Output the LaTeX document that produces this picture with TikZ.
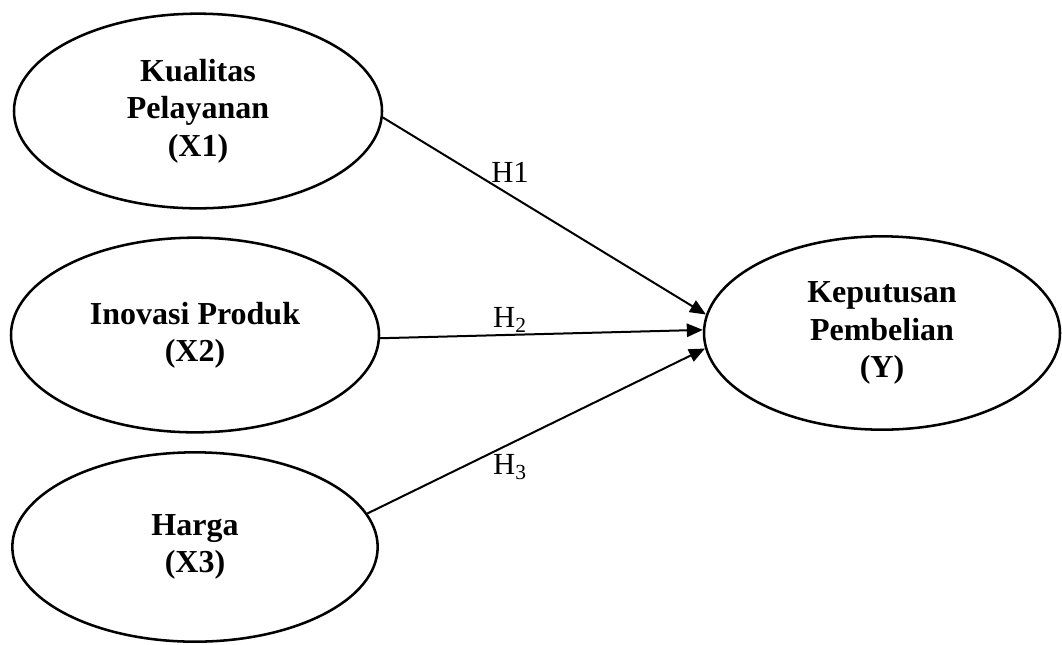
\documentclass[tikz,border=0pt]{standalone}
\usepackage{fontspec}
\setmainfont{Liberation Serif}
\usepackage{tikz}
\usetikzlibrary{shapes,arrows.meta,positioning}

\begin{document}
\begin{tikzpicture}[x=0.75pt,y=0.75pt,yscale=-1,xscale=1,
  var/.style={draw, ellipse, line width=1.9pt, inner sep=0pt,
    minimum width=276pt, minimum height=146pt, align=center,
    font=\bfseries\fontsize{24}{28}\selectfont},
  hyp/.style={line width=1.5pt, -{Triangle[length=12pt,width=10pt]}},
  lab/.style={inner sep=0pt, font=\fontsize{23}{26}\selectfont}]
\useasboundingbox (0,0) rectangle (1062,644);

%Ellipses
\node [var] (X1) at (198,111) {Kualitas\\Pelayanan\\(X1)};
\node [var] (X2) at (195,335) {Inovasi Produk\\(X2)};
\node [var, minimum width=274pt, minimum height=142pt] (X3) at (195,547) {Harga\\(X3)};
\node [var, minimum width=267pt, minimum height=145pt] (Y) at (882,333) {Keputusan\\Pembelian\\(Y)};

%Arrows
\draw [hyp] (X1.-2) -- (Y.174);
\draw [hyp] (X2.-1) -- (Y.179);
\draw [hyp] (X3.11) -- (Y.-175);

% Text Node
\node [lab] (h1) at (510,172) {H1};
% Text Node
\node [lab] (h2) at (510,320) {H\textsubscript{2}};
% Text Node
\node [lab] (h3) at (510,467) {H\textsubscript{3}};

\end{tikzpicture}
\end{document}
